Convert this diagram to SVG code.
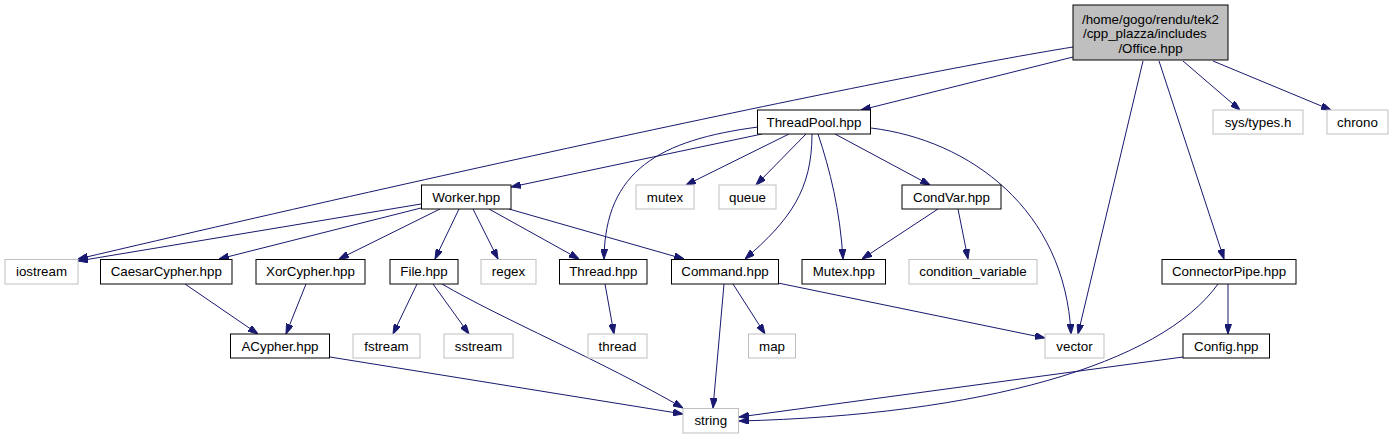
<svg xmlns="http://www.w3.org/2000/svg" width="1395" height="440" viewBox="0 0 1395 440">
<style>
.n rect{fill:#fff;stroke:#000;stroke-width:1}
.g rect{fill:#fff;stroke:#bfbfbf;stroke-width:1}
.m rect{fill:#bfbfbf;stroke:#000;stroke-width:1}
text{font-family:"Liberation Sans",Arial,sans-serif;font-size:13.33px;fill:#000;text-anchor:middle}
#edges path{fill:none;stroke:#191970;stroke-width:1;marker-end:url(#a)}
</style>
<defs>
<marker id="a" viewBox="0 0 10 7" refX="10" refY="3.5" markerWidth="10" markerHeight="7" markerUnits="userSpaceOnUse" orient="auto">
<path d="M0,0L10,3.5L0,7z" fill="#191970" stroke="#191970" stroke-width="1"/>
</marker>
</defs>
<rect width="1395" height="440" fill="#fff"/>
<g id="edges">
<path d="M1073,57 L861,110"/>
<path d="M1073,47 C900,75 500,160 78,259"/>
<path d="M1143,61 L1078,334"/>
<path d="M1159,61 L1224,259"/>
<path d="M1183,61 L1240,110"/>
<path d="M1213,61 L1331,110"/>
<path d="M762,134 L511,187"/>
<path d="M758,127 C660,140 605,170 604,259"/>
<path d="M789,134 L686,185"/>
<path d="M806,134 L756,185"/>
<path d="M812,134 C812,190 790,220 745,259"/>
<path d="M818,134 C830,170 840,210 843,259"/>
<path d="M835,134 L930,185"/>
<path d="M871,128 C970,140 1065,210 1071,334"/>
<path d="M421,204 L78,261"/>
<path d="M421,208 L219,259"/>
<path d="M440,209 L339,259"/>
<path d="M459,209 L435,259"/>
<path d="M473,209 L498,259"/>
<path d="M489,209 L579,259"/>
<path d="M509,209 L684,259"/>
<path d="M938,209 L862,259"/>
<path d="M958,209 L968,259"/>
<path d="M185,284 L258,334"/>
<path d="M306,284 L286,334"/>
<path d="M417,284 L393,334"/>
<path d="M433,284 L469,334"/>
<path d="M442,284 C500,318 600,360 683,408"/>
<path d="M605,284 L614,334"/>
<path d="M724,284 L713,408"/>
<path d="M733,284 L765,334"/>
<path d="M778,283 L1045,338"/>
<path d="M330,357 L683,414"/>
<path d="M1228,284 L1228,334"/>
<path d="M1218,284 C1160,365 980,415 739,421"/>
<path d="M1183,357 L739,417"/>
</g>
<g id="office" class="m"><rect x="1073" y="5" width="155" height="55"/><text x="1150.5" y="23.5">/home/gogo/rendu/tek2</text><text x="1083" y="38" style="text-anchor:start">/cpp_plazza/includes</text><text x="1150.5" y="52.5">/Office.hpp</text></g>
<g id="threadpool" class="n"><rect x="757.5" y="110" width="113" height="24"/><text x="814" y="126.5">ThreadPool.hpp</text></g>
<g id="systypes" class="g"><rect x="1213" y="110" width="90" height="24"/><text x="1258" y="126.5">sys/types.h</text></g>
<g id="chrono" class="g"><rect x="1327" y="110" width="61" height="24"/><text x="1357.5" y="126.5">chrono</text></g>
<g id="worker" class="n"><rect x="421.5" y="185" width="89.5" height="24"/><text x="466.25" y="201.5">Worker.hpp</text></g>
<g id="mutex" class="g"><rect x="636" y="185" width="58" height="24"/><text x="665" y="201.5">mutex</text></g>
<g id="queue" class="g"><rect x="719" y="185" width="57" height="24"/><text x="747.5" y="201.5">queue</text></g>
<g id="condvar" class="n"><rect x="902" y="185" width="99" height="24"/><text x="951.5" y="201.5">CondVar.hpp</text></g>
<g id="iostream" class="g"><rect x="5" y="259.5" width="73" height="24.5"/><text x="41.5" y="276.3">iostream</text></g>
<g id="caesar" class="n"><rect x="100.5" y="259.5" width="131.5" height="24.5"/><text x="166.25" y="276.3">CaesarCypher.hpp</text></g>
<g id="xor" class="n"><rect x="256" y="259.5" width="109" height="24.5"/><text x="310.5" y="276.3">XorCypher.hpp</text></g>
<g id="file" class="n"><rect x="390" y="259.5" width="68" height="24.5"/><text x="424" y="276.3">File.hpp</text></g>
<g id="regex" class="g"><rect x="481" y="259.5" width="55" height="24.5"/><text x="508.5" y="276.3">regex</text></g>
<g id="thread_hpp" class="n"><rect x="559.5" y="259.5" width="87.5" height="24.5"/><text x="603.25" y="276.3">Thread.hpp</text></g>
<g id="command" class="n"><rect x="671.5" y="259.5" width="107" height="24.5"/><text x="725" y="276.3">Command.hpp</text></g>
<g id="mutex_hpp" class="n"><rect x="802" y="259.5" width="83.5" height="24.5"/><text x="843.75" y="276.3">Mutex.hpp</text></g>
<g id="condition_variable" class="g"><rect x="909" y="259.5" width="128" height="24.5"/><text x="973" y="276.3">condition_variable</text></g>
<g id="connectorpipe" class="n"><rect x="1162" y="259.5" width="134" height="24.5"/><text x="1229" y="276.3">ConnectorPipe.hpp</text></g>
<g id="acypher" class="n"><rect x="230.5" y="334" width="99" height="24"/><text x="280" y="350.5">ACypher.hpp</text></g>
<g id="fstream" class="g"><rect x="353" y="334" width="67" height="24"/><text x="386.5" y="350.5">fstream</text></g>
<g id="sstream" class="g"><rect x="444" y="334" width="69" height="24"/><text x="478.5" y="350.5">sstream</text></g>
<g id="thread" class="g"><rect x="588" y="334" width="59" height="24"/><text x="617.5" y="350.5">thread</text></g>
<g id="map" class="g"><rect x="748.5" y="334" width="47" height="24"/><text x="772" y="350.5">map</text></g>
<g id="vector" class="g"><rect x="1045" y="334" width="59" height="24"/><text x="1074.5" y="350.5">vector</text></g>
<g id="config" class="n"><rect x="1183" y="334" width="86.5" height="24"/><text x="1226.25" y="350.5">Config.hpp</text></g>
<g id="string" class="g"><rect x="683" y="408.5" width="55.5" height="24.5"/><text x="710.75" y="425.3">string</text></g>
</svg>
